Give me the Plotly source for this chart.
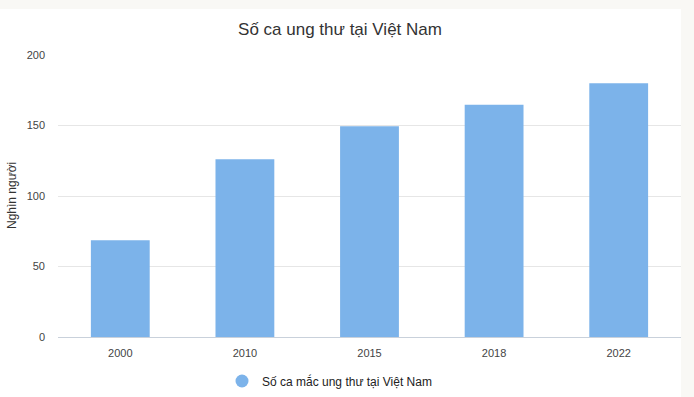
import plotly.graph_objects as go

years = ["2000", "2010", "2015", "2018", "2022"]
cases = [68.6, 126.0, 149.5, 164.7, 180.0]
y_ticks = [0, 50, 100, 150, 200]
series_name = "Số ca mắc ung thư tại Việt Nam"
title_text = "Số ca ung thư tại Việt Nam"
y_title = "Nghìn người"

W, H = 694, 397
L, R, T, B = 58, 13, 55, 60
pw, ph = W - L - R, H - T - B
FONT = "Liberation Sans, Arial, sans-serif"
BAR = "#7cb3ea"

fig = go.Figure()
fig.add_trace(go.Bar(x=years, y=cases, marker_color=BAR, marker_line_width=0,
                     showlegend=False, name=series_name))
fig.add_trace(go.Scatter(x=[None], y=[None], mode="markers", name=series_name,
                         marker=dict(symbol="circle", size=13, color=BAR),
                         showlegend=True))

fig.update_layout(
    width=W, height=H,
    margin=dict(l=L, r=R, t=T, b=B, pad=0, autoexpand=False),
    paper_bgcolor="#f9f8f5",
    plot_bgcolor="rgba(0,0,0,0)",
    font=dict(family=FONT, color="#444"),
    bargap=0.528,
    title=dict(text=title_text, font=dict(size=17, color="#333", family=FONT),
               x=340 / W, xanchor="center", xref="container",
               y=1 - 29 / H, yanchor="middle", yref="container"),
    xaxis=dict(showline=True, linecolor="#c9d1db", linewidth=1, ticks="",
               tickfont=dict(size=11, color="#444"), showgrid=False,
               ticklabelstandoff=6, fixedrange=True),
    yaxis=dict(range=[0, 200], tickvals=y_ticks, showgrid=True,
               gridcolor="#e6e6e6", gridwidth=1, zeroline=False,
               showline=False, ticks="", tickfont=dict(size=11, color="#444"),
               ticklabelstandoff=12, fixedrange=True),
    legend=dict(orientation="h", xref="container", yref="container",
                x=222 / W, xanchor="left", y=1 - 381 / H, yanchor="middle",
                font=dict(size=12, color="#222", family=FONT),
                bgcolor="rgba(0,0,0,0)"),
    shapes=[dict(type="rect", xref="paper", yref="paper", layer="below",
                 x0=-L / pw, x1=1.0, y0=-B / ph, y1=(ph + T - 9) / ph,
                 fillcolor="white", line=dict(width=0))],
    annotations=[dict(text=y_title, textangle=-90, xref="paper", yref="paper",
                      x=(12 - L) / pw, y=(337 - 195) / ph, xanchor="center",
                      yanchor="middle", showarrow=False,
                      font=dict(size=12, color="#333", family=FONT))],
)

fig.write_html("out.html", config={"displayModeBar": False},
               post_script="document.body.style.margin='0';document.body.style.overflow='hidden';")
